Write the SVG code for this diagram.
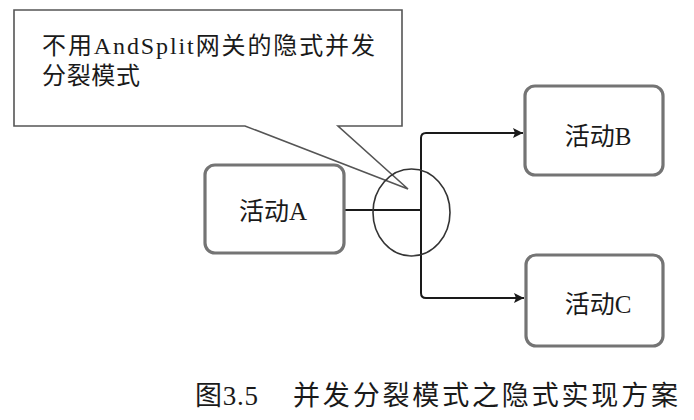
<svg xmlns="http://www.w3.org/2000/svg" width="694" height="420" viewBox="0 0 694 420">
<defs>
<style>
.t{font-family:"Liberation Serif","Noto Sans CJK SC",serif;fill:#1a1a1a}
.box{fill:#fff;stroke:#747474;stroke-width:3.2}
.ln{fill:none;stroke:#1a1a1a;stroke-width:2}
</style>
<marker id="arr" viewBox="0 0 10 10" refX="10" refY="5" markerWidth="10" markerHeight="10" markerUnits="userSpaceOnUse" orient="auto">
<path d="M0,0 L10,5 L0,10 L2,5 Z" fill="#1a1a1a"/>
</marker>
</defs>
<rect width="694" height="420" fill="#fff"/>
<g id="callout">
<path d="M14,10 H402 V126 H338 L408,189 L245,126 H14 Z" fill="#fff" stroke="#555" stroke-width="1.6"/>
<text class="t" x="42" y="54" font-size="24" textLength="333" lengthAdjust="spacing">不用AndSplit网关的隐式并发</text>
<text class="t" x="42" y="84" font-size="24" textLength="98" lengthAdjust="spacing">分裂模式</text>
</g>
<g id="connectors">
<path class="ln" d="M344,210 H421"/>
<path class="ln" d="M421,210 V138 Q421,133 426,133 H523" marker-end="url(#arr)"/>
<path class="ln" d="M421,210 V293 Q421,298 426,298 H524" marker-end="url(#arr)"/>
</g>
<g id="gateway">
<ellipse cx="411.5" cy="212.5" rx="38.5" ry="43.5" fill="none" stroke="#333" stroke-width="1.6"/>
</g>
<g id="activityA">
<rect class="box" x="205" y="165" width="139" height="88" rx="10"/>
<text class="t" x="273" y="220" font-size="25" text-anchor="middle">活动A</text>
</g>
<g id="activityB">
<rect class="box" x="525" y="86" width="138" height="89" rx="10"/>
<text class="t" x="598" y="145" font-size="25" text-anchor="middle">活动B</text>
</g>
<g id="activityC">
<rect class="box" x="526" y="255" width="137" height="91" rx="10"/>
<text class="t" x="598" y="313" font-size="25" text-anchor="middle">活动C</text>
</g>
<g id="caption">
<text class="t" x="195" y="405" font-size="27" textLength="63" lengthAdjust="spacing">图3.5</text>
<text class="t" x="293" y="405" font-size="27" textLength="385" lengthAdjust="spacing">并发分裂模式之隐式实现方案</text>
</g>
</svg>
